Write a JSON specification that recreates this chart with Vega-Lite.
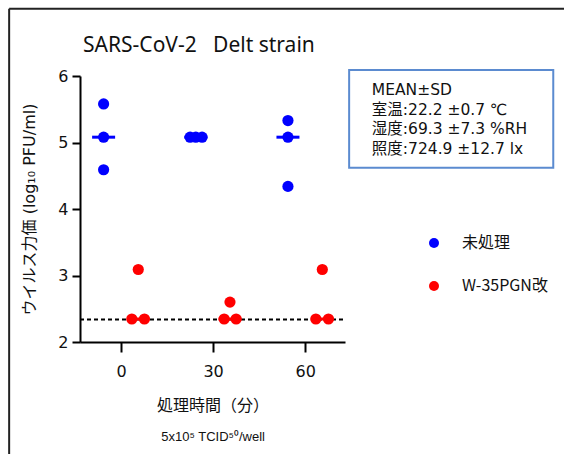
{
  "$schema": "https://vega.github.io/schema/vega-lite/v6.json",
  "width": 265,
  "height": 266,
  "autosize": {"type": "none"},
  "padding": {"left": 80, "top": 76, "right": 219, "bottom": 112},
  "background": "white",
  "config": {
    "view": {"stroke": null},
    "axis": {"grid": false, "domainColor": "black", "domainWidth": 2, "tickColor": "black", "tickWidth": 2, "labelColor": "#111", "titleColor": "#111"}
  },
  "datasets": {
    "points": [
      {"x": -5.7, "v": 5.58, "group": "未処理"},
      {"x": -5.7, "v": 5.08, "group": "未処理"},
      {"x": -5.7, "v": 4.59, "group": "未処理"},
      {"x": 22.5, "v": 5.08, "group": "未処理"},
      {"x": 24.35, "v": 5.08, "group": "未処理"},
      {"x": 26.4, "v": 5.08, "group": "未処理"},
      {"x": 54.4, "v": 5.33, "group": "未処理"},
      {"x": 54.4, "v": 5.08, "group": "未処理"},
      {"x": 54.4, "v": 4.34, "group": "未処理"},
      {"x": 5.6, "v": 3.09, "group": "W-35PGN改"},
      {"x": 3.5, "v": 2.346, "group": "W-35PGN改"},
      {"x": 7.6, "v": 2.346, "group": "W-35PGN改"},
      {"x": 35.5, "v": 2.6, "group": "W-35PGN改"},
      {"x": 33.6, "v": 2.346, "group": "W-35PGN改"},
      {"x": 37.5, "v": 2.346, "group": "W-35PGN改"},
      {"x": 65.6, "v": 3.09, "group": "W-35PGN改"},
      {"x": 63.5, "v": 2.346, "group": "W-35PGN改"},
      {"x": 67.6, "v": 2.346, "group": "W-35PGN改"}
    ],
    "medians": [
      {"x": -5.7, "v": 5.08, "group": "未処理"},
      {"x": 24.35, "v": 5.08, "group": "未処理"},
      {"x": 54.4, "v": 5.08, "group": "未処理"},
      {"x": 5.6, "v": 2.346, "group": "W-35PGN改"},
      {"x": 35.5, "v": 2.346, "group": "W-35PGN改"},
      {"x": 65.6, "v": 2.346, "group": "W-35PGN改"}
    ],
    "limit": [
      {"x": -13.4, "x2": 73, "v": 2.337, "v2": 2.337}
    ],
    "frame": [
      {"x": -36.5, "x2": 144.5, "v": 7.01, "v2": 7.01},
      {"x": -36.5, "x2": -36.5, "v": 7.01, "v2": 0.3}
    ],
    "box": [
      {"x": 74.35, "x2": 140.9, "v": 6.09, "v2": 4.62}
    ],
    "boxtext": [
      {"x": 81.75, "v": 5.79, "label": "MEAN±SD"},
      {"x": 81.75, "v": 5.49, "label": "室温:22.2 ±0.7 ℃"},
      {"x": 81.75, "v": 5.2, "label": "湿度:69.3 ±7.3 %RH"},
      {"x": 81.75, "v": 4.9, "label": "照度:724.9 ±12.7 lx"}
    ],
    "title": [
      {"x": -12.4, "v": 6.36, "label": "SARS-CoV-2\u00a0\u00a0\u00a0Delt strain"}
    ],
    "note": [
      {"x": 30, "v": 0.576, "label": "5x10⁵ TCID⁵⁰/well"}
    ]
  },
  "encoding": {
    "x": {
      "field": "x",
      "type": "quantitative",
      "scale": {"domain": [-13.4, 73], "nice": false, "zero": false},
      "axis": {
        "values": [0, 30, 60],
        "title": "処理時間（分）",
        "titleFont": "Noto Sans CJK JP",
        "titleFontSize": 16,
        "titleFontWeight": "normal",
        "titlePadding": 18,
        "labelFont": "DejaVu Sans",
        "labelFontSize": 16,
        "labelPadding": 11,
        "tickSize": 10
      }
    },
    "y": {
      "field": "v",
      "type": "quantitative",
      "scale": {"domain": [2, 6], "nice": false, "zero": false},
      "axis": {
        "values": [2, 3, 4, 5, 6],
        "title": "ウイルス力価 (log₁₀ PFU/ml)",
        "titleFont": "DejaVu Sans, Noto Sans CJK JP",
        "titleFontSize": 16,
        "titleFontWeight": "normal",
        "titlePadding": 20,
        "labelFont": "DejaVu Sans",
        "labelFontSize": 16,
        "labelPadding": 4,
        "tickSize": 8
      }
    }
  },
  "layer": [
    {
      "data": {"name": "frame"},
      "mark": {"type": "rule", "color": "#222", "strokeWidth": 2},
      "encoding": {"x2": {"field": "x2"}, "y2": {"field": "v2"}}
    },
    {
      "data": {"name": "limit"},
      "mark": {"type": "rule", "color": "black", "strokeWidth": 2, "strokeDash": [4, 3]},
      "encoding": {"x2": {"field": "x2"}, "y2": {"field": "v2"}}
    },
    {
      "data": {"name": "medians"},
      "transform": [{"filter": "datum.group === '未処理'"}],
      "mark": {"type": "tick", "orient": "horizontal", "size": 23, "thickness": 3, "opacity": 1, "color": "#0000FF"},
      "encoding": {}
    },
    {
      "data": {"name": "medians"},
      "transform": [{"filter": "datum.group !== '未処理'"}],
      "mark": {"type": "tick", "orient": "horizontal", "size": 23, "thickness": 3, "opacity": 1, "color": "#FF0000"},
      "encoding": {}
    },
    {
      "data": {"name": "points"},
      "mark": {"type": "circle", "size": 125, "opacity": 1},
      "encoding": {
        "color": {
          "field": "group",
          "type": "nominal",
          "scale": {"domain": ["未処理", "W-35PGN改"], "range": ["#0000FF", "#FF0000"]},
          "legend": {
            "title": null,
            "orient": "none",
            "legendX": 346,
            "legendY": 159,
            "symbolType": "circle",
            "symbolSize": 100,
            "labelFont": "Noto Sans CJK JP",
            "labelFontSize": 16,
            "labelColor": "#111",
            "labelOffset": 20,
            "rowPadding": 27,
            "padding": 0
          }
        }
      }
    },
    {
      "data": {"name": "box"},
      "mark": {"type": "rect", "fill": "white", "stroke": "#5B8BD0", "strokeWidth": 2},
      "encoding": {"x2": {"field": "x2"}, "y2": {"field": "v2"}}
    },
    {
      "data": {"name": "boxtext"},
      "mark": {"type": "text", "align": "left", "baseline": "middle", "font": "DejaVu Sans, Noto Sans CJK JP", "fontSize": 15.5, "color": "#111"},
      "encoding": {"text": {"field": "label"}}
    },
    {
      "data": {"name": "title"},
      "mark": {"type": "text", "align": "left", "baseline": "alphabetic", "font": "Noto Sans", "fontSize": 21, "color": "#111"},
      "encoding": {"text": {"field": "label"}}
    },
    {
      "data": {"name": "note"},
      "mark": {"type": "text", "align": "center", "baseline": "middle", "font": "Liberation Sans", "fontSize": 13, "color": "#111"},
      "encoding": {"text": {"field": "label"}}
    }
  ]
}
